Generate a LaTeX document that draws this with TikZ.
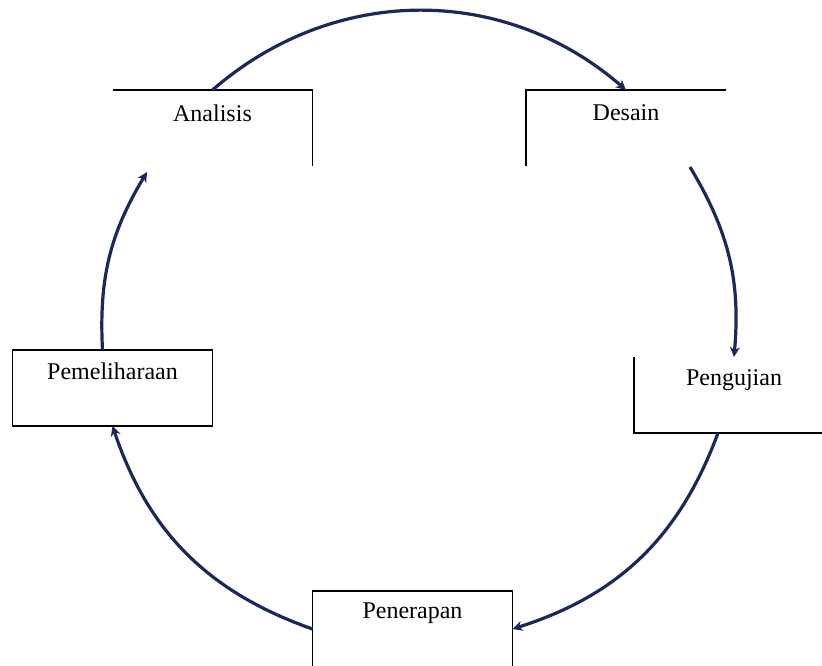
\documentclass[tikz,border=0pt]{standalone}
\usepackage{fontspec}
\setmainfont{Liberation Serif}
\usetikzlibrary{arrows.meta}
\definecolor{arcblue}{RGB}{28,40,92}
\tikzset{
    box/.style={minimum width=200pt, minimum height=76pt, inner sep=0pt, outer sep=0pt},
    boxline/.style={line width=1.6pt, black},
    word/.style={inner sep=0pt, font=\fontsize{24}{28}\selectfont},
    cycle arrow/.style={line width=3.2pt, arcblue, -{Stealth[length=10pt,width=10pt]}}
}
\begin{document}
\begin{tikzpicture}[x=1pt, y=-1pt]
    \useasboundingbox (0,0) rectangle (822,666);
    \clip (0,0) rectangle (822,666);

    \node[box] (ana) at (212.5,128) {};
    \node[box] (des) at (626,128) {};
    \node[box] (peng) at (734,395) {};
    \node[box] (pem) at (112.5,388) {};
    \node[box] (pen) at (412.5,629) {};

    \draw[boxline] (ana.north west) -- (ana.north east) -- (ana.south east);
    \draw[boxline] (des.south west) -- (des.north west) -- (des.north east);
    \draw[boxline] (peng.north west) -- (peng.south west) -- (peng.south east);
    \draw[boxline] (pem.north west) rectangle (pem.south east);
    \draw[boxline] (pen.south west) -- (pen.north west) -- (pen.north east) -- (pen.south east);

    \node[word] (tana) at ([yshift=-23pt]ana.north) {Analisis};
    \node[word] (tdes) at ([yshift=-23pt]des.north) {Desain};
    \node[word] (tpeng) at ([yshift=-23pt]peng.north) {Pengujian};
    \node[word] (tpem) at ([yshift=-21pt]pem.north) {Pemeliharaan};
    \node[word] (tpen) at ([yshift=-22pt]pen.north) {Penerapan};

    \coordinate (gap1) at (690,167);
    \coordinate (gap2) at (147,172);

    \draw[cycle arrow] (ana.north) to[bend left=41] (des.north);
    \draw[cycle arrow] (gap1) to[bend left=18] (peng.north);
    \draw[cycle arrow] ([xshift=-16pt]peng.south) to[bend left=26] (pen.east);
    \draw[cycle arrow] (pen.west) to[bend left=26] (pem.south);
    \draw[cycle arrow] ([xshift=-10pt]pem.north) to[bend left=17] (gap2);
\end{tikzpicture}
\end{document}
